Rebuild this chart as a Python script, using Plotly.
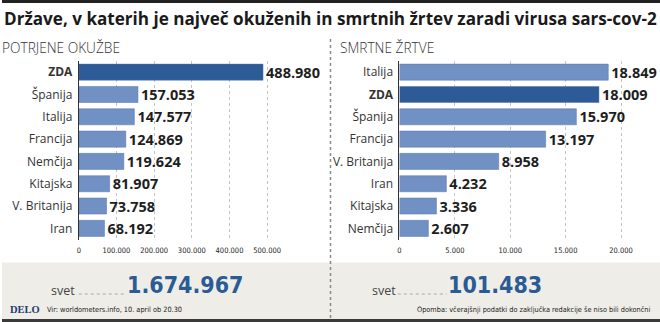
import plotly.graph_objects as go

W, H = 660, 322

# ---------------- data ----------------
cases_countries = ["ZDA", "Španija", "Italija", "Francija", "Nemčija", "Kitajska", "V. Britanija", "Iran"]
cases_values = [488980, 157053, 147577, 124869, 119624, 81907, 73758, 68192]
cases_ticks = [0, 100000, 200000, 300000, 400000, 500000]
cases_ticklabels = ["0", "100.000", "200.000", "300.000", "400.000", "500.000"]

deaths_countries = ["Italija", "ZDA", "Španija", "Francija", "V. Britanija", "Iran", "Kitajska", "Nemčija"]
deaths_values = [18849, 18009, 15970, 13197, 8958, 4232, 3336, 2607]
deaths_ticks = [0, 5000, 10000, 15000, 20000]
deaths_ticklabels = ["0", "5.000", "10.000", "15.000", "20.000"]

world_cases = "1.674.967"
world_deaths = "101.483"

title = "Države, v katerih je največ okuženih in smrtnih žrtev zaradi virusa sars-cov-2"
sub_left = "POTRJENE OKUŽBE"
sub_right = "SMRTNE ŽRTVE"
source = "Vir: worldometers.info, 10. april ob 20.30"
note = "Opomba: včerajšnji podatki do zaključka redakcije še niso bili dokončni"

# ---------------- style ----------------
LIGHT = "#7191c5"
DARK = "#2d5b97"
NUMBLUE = "#2b5b95"
FONT = "Open Sans"
COND = "Liberation Sans Narrow, DejaVu Sans Condensed, sans-serif"


def px(x):
    return x / W


def py(y):
    return 1 - y / H


def colors(cats):
    return [DARK if c == "ZDA" else LIGHT for c in cats]


def ticktext(cats):
    return ["<b>ZDA</b>" if c == "ZDA" else c for c in cats]


fig = go.Figure()

fig.add_trace(go.Bar(
    x=cases_values, y=cases_countries, orientation="h",
    marker=dict(color=colors(cases_countries), line=dict(color="#5574a8", width=0.5)),
    texttemplate="%{x:,}", textposition="outside", cliponaxis=False, constraintext="none",
    textfont=dict(family=FONT, size=14.5, color="#1e1e1e", weight="bold"),
    xaxis="x", yaxis="y", hoverinfo="skip",
))
fig.add_trace(go.Bar(
    x=deaths_values, y=deaths_countries, orientation="h",
    marker=dict(color=colors(deaths_countries), line=dict(color="#5574a8", width=0.5)),
    texttemplate="%{x:,}", textposition="outside", cliponaxis=False, constraintext="none",
    textfont=dict(family=FONT, size=14.5, color="#1e1e1e", weight="bold"),
    xaxis="x2", yaxis="y2", hoverinfo="skip",
))

ydom = [py(239.5), py(61)]
common_x = dict(showgrid=True, gridcolor="#c4c4c4", griddash="dot", gridwidth=1,
                zeroline=False, ticks="", showline=False, ticklabelstandoff=5,
                tickfont=dict(family=COND, size=7.5, color="#222"), fixedrange=True)
common_y = dict(type="category", range=[7.5, -0.5], showline=True, linecolor="#333", linewidth=1,
                ticks="", showgrid=False, ticklabelstandoff=3,
                tickfont=dict(family=FONT, size=12, color="#333"), fixedrange=True)

fig.update_layout(
    width=W, height=H, margin=dict(l=0, r=0, t=0, b=0),
    paper_bgcolor="white", plot_bgcolor="rgba(0,0,0,0)",
    separators=",.", showlegend=False, bargap=0.28,
    xaxis=dict(domain=[px(77), px(329)], range=[0, 252 / 37.8 * 100000],
               tickvals=cases_ticks, ticktext=cases_ticklabels, anchor="y", **common_x),
    yaxis=dict(domain=ydom, anchor="x", tickvals=cases_countries,
               ticktext=ticktext(cases_countries), **common_y),
    xaxis2=dict(domain=[px(398.7), px(660)], range=[0, 261.3 / 55.55 * 5000],
                tickvals=deaths_ticks, ticktext=deaths_ticklabels, anchor="y2", **common_x),
    yaxis2=dict(domain=ydom, anchor="x2", tickvals=deaths_countries,
                ticktext=ticktext(deaths_countries), **common_y),
)

shapes = [
    dict(type="rect", xref="paper", yref="paper", x0=0, x1=1, y0=py(3), y1=py(0),
         fillcolor="#222", line_width=0, layer="below"),
    dict(type="rect", xref="paper", yref="paper", x0=0, x1=1, y0=py(319), y1=py(262.5),
         fillcolor="#efede8", line_width=0, layer="below"),
    dict(type="rect", xref="paper", yref="paper", x0=0, x1=1, y0=0, y1=py(319),
         fillcolor="#3a3a3a", line_width=0, layer="below"),
    dict(type="line", xref="paper", yref="paper", x0=px(329.5), x1=px(329.5), y0=py(318), y1=py(38),
         line=dict(color="#8a8a8a", width=1.5, dash="dot")),
    dict(type="line", xref="paper", yref="paper", x0=px(77), x1=px(124), y0=py(294), y1=py(294),
         line=dict(color="#aaa", width=1, dash="dot")),
    dict(type="line", xref="paper", yref="paper", x0=px(397), x1=px(446), y0=py(294), y1=py(294),
         line=dict(color="#aaa", width=1, dash="dot")),
]
fig.update_layout(shapes=shapes)

ann = []


def add(text, x, y, size, color, family=FONT, xanchor="left", yanchor="middle", weight="normal"):
    ann.append(dict(text=text, x=px(x), y=py(y), xref="paper", yref="paper", showarrow=False,
                    xanchor=xanchor, yanchor=yanchor, borderpad=0,
                    font=dict(family=family, size=size, color=color, weight=weight)))


add(title, 1, 19, 17.1, "#1a1a1a", weight="bold")
add(sub_left, -1, 47, 13.7, "#333", weight=300)
add(sub_right, 338, 47, 13.7, "#333", weight=300)
add("svet", 74, 290, 12.5, "#444", xanchor="right")
add("svet", 396, 290, 12.5, "#444", xanchor="right")
add(world_cases, 124, 285, 23, NUMBLUE, family=COND, weight="bold")
add(world_deaths, 446, 285, 23, NUMBLUE, family=COND, weight="bold")
add("DELO", 7, 309, 10.5, "#1f3c72", family="Liberation Serif, serif", weight="bold")
add(source, 44, 309, 7.3, "#222", family=COND)
add(note, 651, 309, 7.3, "#222", family=COND, xanchor="right")
fig.update_layout(annotations=ann)

fig.write_html("out.html")
